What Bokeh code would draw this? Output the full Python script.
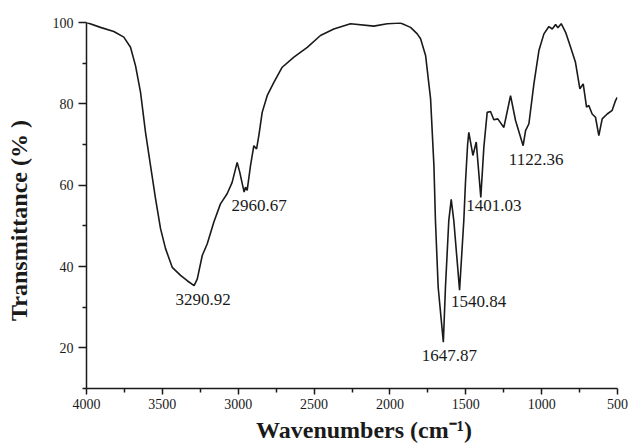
from bokeh.plotting import figure
from bokeh.models import Range1d, FixedTicker, ColumnDataSource
from bokeh.core.properties import value
from bokeh.embed import file_html
from bokeh.resources import INLINE

# FTIR spectrum (wavenumber in cm^-1, transmittance in %)
wavenumber = [4000, 3908, 3820, 3754, 3710, 3677, 3644, 3611, 3578, 3545, 3512, 3479,
              3435, 3380, 3336, 3291, 3270, 3237, 3204, 3161, 3117, 3073, 3040, 3007,
              2990, 2961, 2952, 2941, 2919, 2897, 2879, 2864, 2842, 2809, 2765, 2710,
              2633, 2545, 2458, 2370, 2260, 2106, 2018, 1930, 1864, 1820, 1798, 1765,
              1732, 1710, 1700, 1682, 1648, 1634, 1612, 1596, 1579, 1541, 1513, 1502,
              1488, 1480, 1453, 1431, 1401, 1381, 1359, 1337, 1315, 1289, 1249, 1205,
              1172, 1122, 1106, 1084, 1051, 1018, 985, 952, 930, 908, 893, 871,
              842, 809, 777, 748, 726, 704, 689, 667, 645, 623, 601, 568,
              535, 513, 502]
transmittance = [100.0, 98.8, 97.8, 96.4, 93.9, 89.4, 82.9, 73.0, 64.8, 56.7, 49.3, 44.4,
                 39.8, 37.8, 36.5, 35.3, 36.9, 42.7, 45.6, 50.9, 55.4, 57.9, 60.7, 65.6,
                 63.2, 58.3, 59.5, 58.7, 64.8, 69.7, 68.9, 72.2, 77.9, 82.0, 85.3, 89.0,
                 91.5, 93.9, 96.8, 98.4, 99.7, 99.1, 99.7, 99.9, 98.8, 97.2, 96.0, 91.9,
                 81.2, 64.8, 51.3, 34.9, 21.4, 34.9, 51.3, 56.5, 51.3, 34.2, 51.3, 60.7,
                 70.0, 73.0, 67.3, 70.6, 57.0, 69.3, 77.9, 78.1, 76.1, 76.3, 74.2, 82.0,
                 75.9, 69.7, 73.4, 75.1, 84.9, 93.1, 97.2, 99.0, 98.4, 99.5, 98.7, 99.7,
                 97.6, 93.9, 90.2, 83.7, 84.9, 79.2, 79.6, 77.5, 76.7, 72.2, 76.3, 77.5,
                 78.4, 80.8, 81.6]

peak_labels = ["3290.92", "2960.67", "1647.87", "1540.84", "1401.03", "1122.36"]
peak_wavenumber = [3290.92, 2960.67, 1647.87, 1540.84, 1401.03, 1122.36]
peak_transmittance = [35.3, 58.3, 21.4, 34.2, 57.0, 69.7]

x_ticks = [4000, 3500, 3000, 2500, 2000, 1500, 1000, 500]
x_minor = [3750, 3250, 2750, 2250, 1750, 1250, 750]
y_ticks = [20, 40, 60, 80, 100]
y_minor = [10, 30, 50, 70, 90]

SERIF = "Liberation Serif"
INK = "#1a1a1a"
NB = "\u00a0"

p = figure(width=629, height=447, output_backend="svg", toolbar_location=None,
           x_range=Range1d(4000, 500), y_range=Range1d(10, 100),
           min_border_left=86, min_border_right=12, min_border_top=22, min_border_bottom=59)
p.outline_line_color = None
p.xgrid.visible = False
p.ygrid.visible = False
p.background_fill_color = "white"
p.border_fill_color = "white"

p.line(wavenumber, transmittance, line_color=INK, line_width=1.6)

lab_src = ColumnDataSource(dict(x=peak_wavenumber, y=peak_transmittance, t=peak_labels,
                                dx=[9, 15, 6, 19, 13, 13], dy=[14, 13, 13, 11, 8, 14]))
p.text(x="x", y="y", text="t", x_offset="dx", y_offset="dy", source=lab_src,
       text_font=value(SERIF), text_font_size="17px", text_color=INK,
       text_align="center", text_baseline="middle")

for ax in (p.xaxis[0], p.yaxis[0]):
    ax.axis_line_color = INK
    ax.axis_line_width = 1.5
    ax.major_tick_line_color = INK
    ax.major_tick_line_width = 1.5
    ax.minor_tick_line_color = INK
    ax.minor_tick_line_width = 1.5
    ax.major_tick_in = 0
    ax.minor_tick_in = 0
    ax.major_label_text_font = SERIF
    ax.major_label_text_font_size = "14px"
    ax.major_label_text_color = INK
    ax.axis_label_text_font = SERIF
    ax.axis_label_text_font_style = "bold"
    ax.axis_label_text_font_size = "24px"
    ax.axis_label_text_color = INK

p.xaxis.ticker = FixedTicker(ticks=x_ticks, minor_ticks=x_minor)
p.yaxis.ticker = FixedTicker(ticks=y_ticks, minor_ticks=y_minor)
p.xaxis.major_tick_out = 6
p.xaxis.minor_tick_out = 4
p.yaxis.major_tick_out = 8
p.yaxis.minor_tick_out = 4
p.xaxis.major_label_standoff = 4
p.yaxis.major_label_standoff = 5
p.xaxis.axis_label = NB * 4 + "Wavenumbers (cm\u207b\u00b9)"
p.yaxis.axis_label = "Transmittance (% )" + NB * 5
p.xaxis.axis_label_standoff = 5
p.yaxis.axis_label_standoff = 18

open("out.html", "w").write(file_html(p, INLINE))
